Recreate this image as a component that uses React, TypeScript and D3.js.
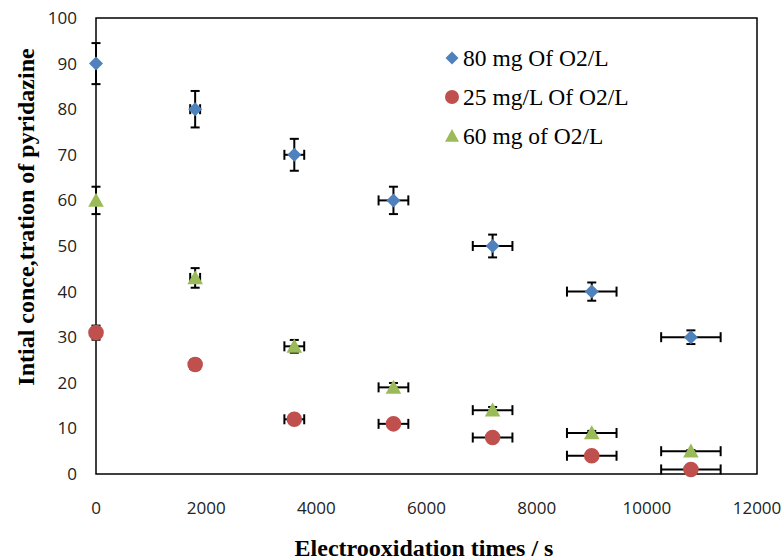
import React from "react"
import * as d3 from "d3"

// electrooxidation time (s)
const times = [0, 1800, 3600, 5400, 7200, 9000, 10800]
const timeErr = [0, 90, 180, 270, 360, 450, 540]

const series = [
  {
    name: "80 mg Of O2/L",
    color: "#4F81BD",
    shape: "diamond",
    values: [90, 80, 70, 60, 50, 40, 30],
    errs: [4.5, 4, 3.5, 3, 2.5, 2, 1.5],
  },
  {
    name: "25 mg/L  Of O2/L",
    color: "#C0504D",
    shape: "circle",
    values: [31, 24, 12, 11, 8, 4, 1],
    errs: [1.55, 1.2, 0.6, 0.55, 0.4, 0.2, 0.05],
  },
  {
    name: "60 mg of O2/L",
    color: "#9BBB59",
    shape: "triangle",
    values: [60, 43, 28, 19, 14, 9, 5],
    errs: [3, 2.15, 1.4, 0.95, 0.7, 0.45, 0.25],
  },
]

const xTicks = [0, 2000, 4000, 6000, 8000, 10000, 12000]
const yTicks = [0, 10, 20, 30, 40, 50, 60, 70, 80, 90, 100]

const W = 783
const H = 558
const plot = { left: 96, right: 757, top: 18, bottom: 474 }

const x = d3.scaleLinear().domain([0, 12000]).range([plot.left, plot.right])
const y = d3.scaleLinear().domain([0, 100]).range([plot.bottom, plot.top])

function marker(shape: string, size: number) {
  if (shape === "diamond") {
    const s = size
    return `M0,${-s}L${s},0L0,${s}L${-s},0Z`
  }
  if (shape === "circle") return d3.symbol(d3.symbolCircle, size * size * Math.PI)()
  // triangle
  const h = size * 1.8
  const w = size * 2
  return `M0,${-h * 0.55}L${w / 2},${h * 0.45}L${-w / 2},${h * 0.45}Z`
}

function ErrorBars({ s }: { s: any }) {
  const cap = 4.5
  return (
    <g stroke="#000" strokeWidth={2}>
      {times.map((t, i) => {
        const cx = x(t)
        const cy = y(s.values[i])
        const x0 = x(t - timeErr[i])
        const x1 = x(t + timeErr[i])
        const y0 = y(s.values[i] + s.errs[i])
        const y1 = y(s.values[i] - s.errs[i])
        return (
          <g key={i}>
            {timeErr[i] > 0 && (
              <>
                <line x1={x0} x2={x1} y1={cy} y2={cy} />
                <line x1={x0} x2={x0} y1={cy - 5} y2={cy + 5} />
                <line x1={x1} x2={x1} y1={cy - 5} y2={cy + 5} />
              </>
            )}
            <line x1={cx} x2={cx} y1={y0} y2={y1} />
            <line x1={cx - cap} x2={cx + cap} y1={y0} y2={y0} />
            <line x1={cx - cap} x2={cx + cap} y1={y1} y2={y1} />
          </g>
        )
      })}
    </g>
  )
}

export default function App() {
  return (
    <div style={{ position: "absolute", left: 0, top: 0 }}>
      <svg width={W} height={H} style={{ display: "block", background: "#fff" }}>
        <rect
          x={plot.left}
          y={plot.top}
          width={plot.right - plot.left}
          height={plot.bottom - plot.top}
          fill="none"
          stroke="#000"
          strokeWidth={1.5}
        />

        {yTicks.map((t) => (
          <text
            key={t}
            x={77}
            y={y(t) + 6}
            textAnchor="end"
            fontFamily="'Open Sans', sans-serif"
            fontSize={17}
            fill="#222"
          >
            {t}
          </text>
        ))}
        {xTicks.map((t) => (
          <text
            key={t}
            x={x(t)}
            y={514}
            textAnchor="middle"
            fontFamily="'Open Sans', sans-serif"
            fontSize={17}
            fill="#222"
          >
            {t}
          </text>
        ))}

        {series.map((s) => (
          <g key={s.name}>
            <ErrorBars s={s} />
            {times.map((t, i) => (
              <path
                key={i}
                d={marker(s.shape, s.shape === "diamond" ? 7 : 7.8) as string}
                transform={`translate(${x(t)},${y(s.values[i])})`}
                fill={s.color}
              />
            ))}
          </g>
        ))}

        {series.map((s, i) => (
          <g key={s.name} transform={`translate(452,${58 + i * 39})`}>
            <path
              d={marker(s.shape, s.shape === "diamond" ? 6.5 : 7) as string}
              fill={s.color}
            />
            <text
              x={11}
              y={8}
              fontFamily="'Liberation Serif', 'Times New Roman', serif"
              fontSize={23.5}
              fill="#000"
            >
              {s.name}
            </text>
          </g>
        ))}

        <text
          transform={`translate(34,217) rotate(-90)`}
          textAnchor="middle"
          fontFamily="'Liberation Serif', 'Times New Roman', serif"
          fontWeight="bold"
          fontSize={24}
          fill="#000"
        >
          Intial conce,tration of pyridazine
        </text>
        <text
          x={424}
          y={556}
          textAnchor="middle"
          fontFamily="'Liberation Serif', 'Times New Roman', serif"
          fontWeight="bold"
          fontSize={24}
          fill="#000"
        >
          Electrooxidation times / s
        </text>
      </svg>
    </div>
  )
}
